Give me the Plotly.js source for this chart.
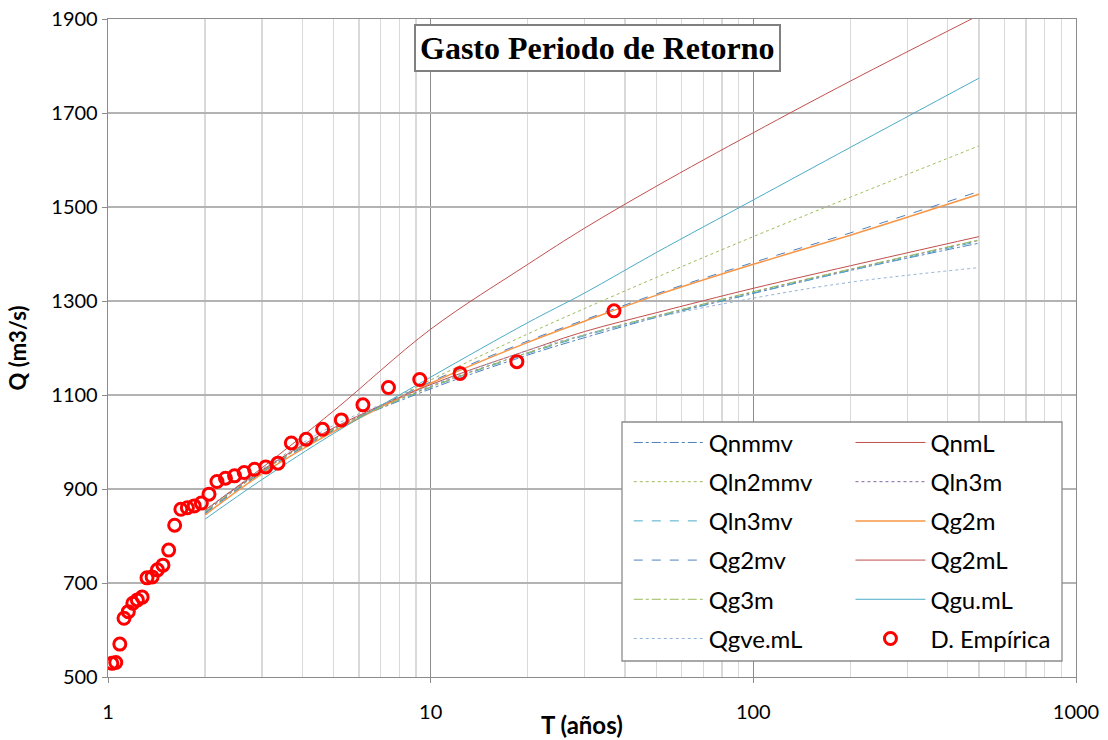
<!DOCTYPE html>
<html>
<head>
<meta charset="utf-8">
<script src="https://cdn.plot.ly/plotly-3.0.1.min.js"></script>
<style>html,body{margin:0;padding:0;background:#fff;}#chart{width:1108px;height:740px;}</style>
</head>
<body>
<div id="chart"></div>
<script>
// Return periods (years) at which the fitted curves were read
const T_curve = [2, 3, 5, 10, 20, 30, 50, 100, 200, 500];

// Fitted discharge curves (m3/s)
const Qnmmv   = [850, 938, 1027, 1113, 1185, 1222, 1265, 1316, 1365, 1423];
const QnmL    = [855, 945, 1066, 1240, 1378, 1455, 1544, 1658, 1768, 1908];
const Qln2mmv = [845, 932, 1024, 1132, 1230, 1284, 1350, 1437, 1521, 1630];
const Qln3m   = [853, 938, 1028, 1118, 1190, 1228, 1268, 1319, 1367, 1429];
const Qln3mv  = [850, 936, 1026, 1116, 1188, 1226, 1266, 1317, 1365, 1427];
const Qg2m    = [845, 932, 1022, 1125, 1212, 1257, 1312, 1378, 1440, 1527];
const Qg2mv   = [848, 935, 1025, 1128, 1215, 1260, 1315, 1382, 1445, 1533];
const Qg2mL   = [855, 940, 1030, 1122, 1195, 1235, 1275, 1327, 1375, 1437];
const Qg3m    = [852, 937, 1027, 1117, 1190, 1228, 1268, 1320, 1368, 1430];
const Qgumu   = [836, 920, 1018, 1138, 1254, 1317, 1403, 1515, 1627, 1774];
const Qgvemu  = [855, 942, 1035, 1120, 1195, 1228, 1265, 1306, 1340, 1371];

// Empirical points: return period and observed discharge
const T_emp = [37, 18.5, 12.333, 9.25, 7.4, 6.167, 5.286, 4.625, 4.111, 3.7,
               3.364, 3.083, 2.846, 2.643, 2.467, 2.3125, 2.176, 2.056, 1.947, 1.85,
               1.762, 1.682, 1.609, 1.542, 1.48, 1.423, 1.37, 1.321, 1.276, 1.233,
               1.194, 1.156, 1.121, 1.088, 1.057, 1.028];
const Q_emp = [1279, 1171, 1146, 1133, 1116, 1079, 1047, 1027, 1006, 998,
               955, 947, 942, 935, 928, 923, 916, 889, 870, 864,
               860, 857, 823, 770, 738, 728, 713, 711, 670, 664,
               657, 639, 625, 570, 531, 529];

const xTickVals = [1, 10, 100, 1000];
const xTickText = ['1', '10', '100', '1000'];
const yTickVals = [500, 700, 900, 1100, 1300, 1500, 1700, 1900];

const FONT = 'Lato, "Noto Sans", sans-serif';

function curve(name, y, color, dash, width, legend) {
  return {
    x: T_curve, y: y, name: name, type: 'scatter', mode: 'lines',
    line: {color: color, dash: dash, width: width, shape: 'spline'},
    legend: legend, legendgroup: name, hoverinfo: 'x+y+name'
  };
}

const traces = [
  curve('Qnmmv',   Qnmmv,   '#4f81bd', 'dashdot', 1, 'legend'),
  curve('QnmL',    QnmL,    '#c0504d', 'solid',   1, 'legend2'),
  curve('Qln2mmv', Qln2mmv, '#9bbb59', 'dot',     1, 'legend'),
  curve('Qln3m',   Qln3m,   '#8064a2', 'dot',     1, 'legend2'),
  curve('Qln3mv',  Qln3mv,  '#4bacc6', 'dash',    1, 'legend'),
  curve('Qg2m',    Qg2m,    '#f79646', 'solid',   1.5, 'legend2'),
  curve('Qg2mv',   Qg2mv,   '#4f81bd', 'dash',    1, 'legend'),
  curve('Qg2mL',   Qg2mL,   '#c0504d', 'solid',   1, 'legend2'),
  curve('Qg3m',    Qg3m,    '#9bbb59', 'dashdot', 1, 'legend'),
  curve('Qgu.mL',  Qgumu,   '#4bacc6', 'solid',   1, 'legend2'),
  curve('Qgve.mL', Qgvemu,  '#95b3d7', 'dot',     1, 'legend'),
  {
    x: T_emp, y: Q_emp, name: 'D. Empírica', type: 'scatter', mode: 'markers',
    marker: {symbol: 'circle-open', size: 12, color: '#ff0000', line: {color: '#ff0000', width: 3}},
    legend: 'legend2', legendgroup: 'emp'
  }
];

const legendCommon = {
  orientation: 'v', traceorder: 'grouped', tracegroupgap: 5,
  font: {family: FONT, size: 24, color: '#000'},
  bgcolor: 'rgba(0,0,0,0)', borderwidth: 0,
  itemwidth: 70, yanchor: 'top', xanchor: 'left', y: 0.39
};

const layout = {
  width: 1108, height: 740,
  margin: {l: 108, r: 32, t: 19, b: 63},
  paper_bgcolor: '#fff', plot_bgcolor: '#fff',
  font: {family: FONT, size: 20, color: '#000'},
  showlegend: true,
  legend: Object.assign({}, legendCommon, {x: 0.538}),
  legend2: Object.assign({}, legendCommon, {x: 0.767}),
  xaxis: {
    type: 'log', range: [0, 3], tickvals: xTickVals, ticktext: xTickText,
    showgrid: true, gridcolor: '#8c8c8c', gridwidth: 1.3,
    minor: {tickvals: [2,3,4,5,6,7,8,9,20,30,40,50,60,70,80,90,200,300,400,500,600,700,800,900],
            showgrid: true, gridcolor: '#d9d9d9', gridwidth: 1.3, ticks: ''},
    showline: true, linecolor: '#8c8c8c', linewidth: 1.3, mirror: true,
    ticks: 'outside', ticklen: 5, tickcolor: '#8c8c8c',
    ticklabelstandoff: 12,
    tickfont: {family: FONT, size: 20, color: '#000'},
    zeroline: false
  },
  yaxis: {
    range: [500, 1900], tickvals: yTickVals,
    showgrid: true, gridcolor: '#b3b3b3', gridwidth: 1.3,
    showline: true, linecolor: '#8c8c8c', linewidth: 1.3, mirror: true,
    ticks: 'outside', ticklen: 5, tickcolor: '#8c8c8c',
    tickfont: {family: FONT, size: 20, color: '#000'},
    title: {text: '<b>Q (m3/s)</b>', font: {family: FONT, size: 22, color: '#000'}, standoff: 18},
    zeroline: false
  },
  shapes: [{
    type: 'rect', xref: 'paper', yref: 'paper',
    x0: (622 - 108) / 968, x1: (1062 - 108) / 968,
    y0: (677 - 661) / 658, y1: (677 - 422) / 658,
    fillcolor: '#ffffff', line: {color: '#8c8c8c', width: 1.3}, layer: 'above'
  }],
  annotations: [
    {
      xref: 'paper', yref: 'paper', x: 0.506, y: 0.9555, xanchor: 'center', yanchor: 'middle',
      text: '<b>Gasto Periodo de Retorno</b>', showarrow: false,
      font: {family: '"Liberation Serif", "Times New Roman", serif', size: 32, color: '#000'},
      bgcolor: '#ffffff', bordercolor: '#808080', borderwidth: 2, borderpad: 4
    },
    {
      xref: 'paper', yref: 'paper', x: (582 - 108) / 968, y: (677 - 724) / 658,
      xanchor: 'center', yanchor: 'middle', showarrow: false,
      text: '<b>T (años)</b>', font: {family: FONT, size: 24, color: '#000'}
    }
  ]
};

Plotly.newPlot('chart', traces, layout, {displayModeBar: false, staticPlot: true});
</script>
</body>
</html>
